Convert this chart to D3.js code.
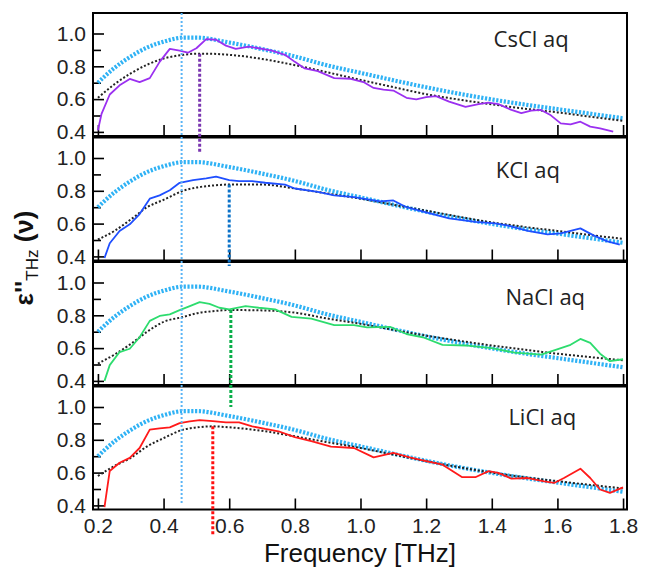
<!DOCTYPE html>
<html>
<head>
<meta charset="utf-8">
<script src="https://cdn.jsdelivr.net/npm/d3@7"></script>
<style>
  body { margin: 0; background: #fff; }
  svg { display: block; }
</style>
</head>
<body>
<div id="chart"></div>
<script>
// ---- data ----
const xTicks = [0.2, 0.4, 0.6, 0.8, 1.0, 1.2, 1.4, 1.6, 1.8]
const yTicks = [0.4, 0.5, 0.6, 0.7, 0.8, 0.9, 1.0]
const yLabelTicks = [0.4, 0.6, 0.8, 1.0]

const panelNames = ["CsCl aq", "KCl aq", "NaCl aq", "LiCl aq"]
const panelColors = ["#9b30f0", "#1f4fff", "#2ddc6e", "#ff1a1a"]
const peakColors = ["#7a35b0", "#0b72c8", "#0ab04a", "#ff1010"]
const peakFreq = [0.51, 0.60, 0.605, 0.55]
// lower end of each coloured peak marker (value in the panel below, last one in its own panel)
const peakDrop = [1.03, 1.10, 1.00, 0.22]
const waterPeak = 0.455

// pure water reference (light blue dotted), same in every panel
const waterFreq = [0.2, 0.25, 0.3, 0.35, 0.4, 0.46, 0.5, 0.6, 0.7, 0.8, 0.9, 1.0, 1.1, 1.2, 1.3, 1.4, 1.5, 1.6, 1.7, 1.8]
const waterEps = [0.70, 0.79, 0.86, 0.915, 0.95, 0.975, 0.975, 0.945, 0.905, 0.86, 0.805, 0.76, 0.715, 0.672, 0.633, 0.598, 0.567, 0.539, 0.511, 0.483]

// fits (black dotted)
const fitFreq = [0.2, 0.25, 0.3, 0.35, 0.4, 0.46, 0.5, 0.55, 0.6, 0.7, 0.8, 0.9, 1.0, 1.1, 1.2, 1.3, 1.4, 1.5, 1.6, 1.7, 1.8]
const csclFit = [0.608, 0.69, 0.757, 0.81, 0.847, 0.87, 0.877, 0.876, 0.87, 0.845, 0.807, 0.763, 0.717, 0.673, 0.630, 0.597, 0.568, 0.542, 0.519, 0.493, 0.468]
const kclFit = [0.503, 0.555, 0.625, 0.70, 0.745, 0.80, 0.82, 0.832, 0.838, 0.838, 0.814, 0.783, 0.752, 0.715, 0.679, 0.642, 0.607, 0.58, 0.555, 0.53, 0.507]
const naclFit = [0.506, 0.56, 0.625, 0.70, 0.76, 0.79, 0.812, 0.825, 0.832, 0.83, 0.816, 0.78, 0.748, 0.711, 0.676, 0.645, 0.616, 0.59, 0.566, 0.545, 0.526]
const liclFit = [0.579, 0.64, 0.69, 0.76, 0.81, 0.862, 0.875, 0.882, 0.876, 0.855, 0.821, 0.785, 0.75, 0.71, 0.67, 0.633, 0.60, 0.572, 0.548, 0.525, 0.504]

// measured spectra
const csclFreq = [0.2, 0.211, 0.236, 0.266, 0.297, 0.327, 0.358, 0.388, 0.419, 0.449, 0.474, 0.5, 0.53, 0.56, 0.59, 0.62, 0.66, 0.69, 0.73, 0.77, 0.80, 0.83, 0.87, 0.92, 0.97, 1.009, 1.04, 1.07, 1.1, 1.14, 1.17, 1.2, 1.23, 1.27, 1.32, 1.36, 1.39, 1.42, 1.46, 1.49, 1.52, 1.55, 1.58, 1.61, 1.64, 1.67, 1.70, 1.73, 1.77]
const csclEps = [0.41, 0.51, 0.628, 0.684, 0.723, 0.704, 0.728, 0.827, 0.906, 0.896, 0.883, 0.91, 0.966, 0.962, 0.926, 0.906, 0.92, 0.91, 0.896, 0.87, 0.827, 0.787, 0.771, 0.728, 0.724, 0.704, 0.668, 0.658, 0.652, 0.608, 0.598, 0.612, 0.618, 0.585, 0.553, 0.569, 0.579, 0.569, 0.534, 0.514, 0.53, 0.534, 0.501, 0.452, 0.446, 0.462, 0.432, 0.422, 0.402]

const kclFreq = [0.22, 0.236, 0.266, 0.297, 0.327, 0.358, 0.388, 0.419, 0.449, 0.49, 0.53, 0.56, 0.6, 0.63, 0.67, 0.71, 0.77, 0.8, 0.87, 0.92, 0.98, 1.06, 1.1, 1.14, 1.2, 1.27, 1.35, 1.41, 1.45, 1.51, 1.57, 1.61, 1.67, 1.71, 1.75, 1.79]
const kclEps = [0.39, 0.48, 0.555, 0.596, 0.658, 0.752, 0.772, 0.803, 0.849, 0.865, 0.876, 0.886, 0.865, 0.859, 0.859, 0.849, 0.838, 0.814, 0.793, 0.772, 0.762, 0.735, 0.741, 0.70, 0.669, 0.632, 0.611, 0.601, 0.587, 0.555, 0.534, 0.54, 0.571, 0.528, 0.493, 0.472]

const naclFreq = [0.22, 0.236, 0.266, 0.297, 0.327, 0.358, 0.388, 0.419, 0.449, 0.48, 0.51, 0.54, 0.57, 0.6, 0.65, 0.69, 0.74, 0.79, 0.85, 0.92, 0.98, 1.02, 1.09, 1.14, 1.19, 1.25, 1.32, 1.4, 1.47, 1.55, 1.59, 1.64, 1.67, 1.70, 1.73, 1.76, 1.80]
const naclEps = [0.40, 0.496, 0.576, 0.596, 0.666, 0.766, 0.796, 0.806, 0.832, 0.856, 0.88, 0.87, 0.846, 0.836, 0.856, 0.846, 0.836, 0.79, 0.78, 0.74, 0.74, 0.726, 0.73, 0.686, 0.666, 0.62, 0.616, 0.60, 0.572, 0.56, 0.586, 0.62, 0.656, 0.632, 0.566, 0.52, 0.532]

const liclFreq = [0.22, 0.236, 0.266, 0.297, 0.327, 0.358, 0.388, 0.419, 0.449, 0.48, 0.51, 0.55, 0.59, 0.63, 0.67, 0.71, 0.75, 0.8, 0.85, 0.91, 0.98, 1.04, 1.1, 1.15, 1.2, 1.25, 1.31, 1.35, 1.39, 1.42, 1.46, 1.51, 1.56, 1.59, 1.62, 1.67, 1.70, 1.73, 1.76, 1.80]
const liclEps = [0.39, 0.61, 0.66, 0.69, 0.75, 0.862, 0.87, 0.876, 0.902, 0.912, 0.92, 0.914, 0.906, 0.906, 0.882, 0.866, 0.852, 0.816, 0.792, 0.758, 0.75, 0.693, 0.72, 0.693, 0.67, 0.648, 0.572, 0.572, 0.609, 0.598, 0.563, 0.567, 0.547, 0.537, 0.567, 0.624, 0.567, 0.497, 0.476, 0.51]

const dataFreq = [csclFreq, kclFreq, naclFreq, liclFreq]
const dataEps = [csclEps, kclEps, naclEps, liclEps]
const fits = [csclFit, kclFit, naclFit, liclFit]

// ---- layout ----
const width = 646, height = 574
const marginL = 93, marginR = 19, marginT = 13
const panelH = 123, panelGap = 1.5
// where the panel names sit: centre x in THz, baseline below panel top in px
const nameX = [1.52, 1.51, 1.563, 1.554]
const nameDy = [34, 40, 43, 38]

const svg = d3.select("#chart").append("svg")
    .attr("width", width)
    .attr("height", height)
    .style("font-family", "'Liberation Sans', Arial, sans-serif")

const xScale = d3.scaleLinear()
    .domain([0.185, 1.812])
    .range([marginL, width - marginR])

const panelTop = i => marginT + i * (panelH + panelGap)
const yScales = panelNames.map((d, i) => d3.scaleLinear()
    .domain([0.375, 1.125])
    .range([panelTop(i) + panelH, panelTop(i)]))

const zip = (xs, ys) => xs.map((x, i) => [x, ys[i]])

panelNames.forEach((name, i) => {
    const y = yScales[i]
    const g = svg.append("g").attr("class", "panel")
    const bottom = panelTop(i) + panelH

    // frame
    g.append("rect")
        .attr("x", marginL)
        .attr("y", panelTop(i))
        .attr("width", width - marginR - marginL)
        .attr("height", panelH)
        .attr("fill", "none")
        .attr("stroke", "#000")
        .attr("stroke-width", 2)

    // y ticks (inside)
    g.append("g")
        .attr("transform", `translate(${marginL},0)`)
        .call(d3.axisRight(y).tickValues(yTicks)
            .tickSize(0).tickFormat(""))
        .call(a => a.select(".domain").remove())
        .call(a => a.selectAll(".tick line")
            .attr("x2", d => (Math.round(d * 10) % 2 === 0) ? 11 : 8)
            .attr("stroke", "#000").attr("stroke-width", 1.6))

    // y labels
    g.append("g")
        .attr("transform", `translate(${marginL},0)`)
        .call(d3.axisLeft(y).tickValues(yLabelTicks).tickSize(0).tickPadding(7)
            .tickFormat(d3.format(".1f")))
        .call(a => a.select(".domain").remove())
        .call(a => a.selectAll("text")
            .attr("font-size", 21)
            .attr("font-family", "'Liberation Sans', Arial, sans-serif")
            .attr("fill", "#222"))

    // x ticks (inside, on each panel bottom)
    g.append("g")
        .attr("transform", `translate(0,${bottom})`)
        .call(d3.axisTop(xScale).tickValues(xTicks).tickSize(11).tickFormat(""))
        .call(a => a.select(".domain").remove())
        .call(a => a.selectAll(".tick line").attr("stroke", "#000").attr("stroke-width", 1.6))

    const clipId = "clip" + i
    svg.append("clipPath").attr("id", clipId)
        .append("rect")
        .attr("x", marginL).attr("y", panelTop(i))
        .attr("width", width - marginR - marginL).attr("height", panelH)

    const line = d3.line().x(d => xScale(d[0])).y(d => y(d[1]))
    const smooth = d3.line().x(d => xScale(d[0])).y(d => y(d[1])).curve(d3.curveMonotoneX)

    const plot = g.append("g").attr("clip-path", `url(#${clipId})`)

    // water reference
    plot.append("path")
        .datum(zip(waterFreq, waterEps))
        .attr("d", smooth)
        .attr("fill", "none")
        .attr("stroke", "#2fb2f5")
        .attr("stroke-width", 4.2)
        .attr("stroke-dasharray", "2.2 1.6")

    // fit
    plot.append("path")
        .datum(zip(fitFreq, fits[i]))
        .attr("d", smooth)
        .attr("fill", "none")
        .attr("stroke", "#222")
        .attr("stroke-width", 2)
        .attr("stroke-dasharray", "2 2")

    // measured
    plot.append("path")
        .datum(zip(dataFreq[i], dataEps[i]))
        .attr("d", line)
        .attr("fill", "none")
        .attr("stroke", panelColors[i])
        .attr("stroke-width", 1.8)
        .attr("stroke-linejoin", "round")

    // panel name
    g.append("text")
        .attr("x", xScale(nameX[i]))
        .attr("y", panelTop(i) + nameDy[i])
        .attr("text-anchor", "middle")
        .attr("font-family", "'Open Sans', sans-serif")
        .attr("font-size", 22)
        .attr("fill", "#222")
        .text(name)
})

// peak markers, each running from its fit down into the panel below
panelNames.forEach((name, i) => {
    const fitAtPeak = d3.scaleLinear().domain(fitFreq).range(fits[i])(peakFreq[i])
    const yEnd = i < panelNames.length - 1 ? yScales[i + 1](peakDrop[i]) : yScales[i](peakDrop[i])
    svg.append("line")
        .attr("x1", xScale(peakFreq[i])).attr("x2", xScale(peakFreq[i]))
        .attr("y1", yScales[i](fitAtPeak))
        .attr("y2", yEnd)
        .attr("stroke", peakColors[i])
        .attr("stroke-width", 3)
        .attr("stroke-dasharray", "3 2")
})

// water peak marker through all panels
svg.append("line")
    .attr("x1", xScale(waterPeak)).attr("x2", xScale(waterPeak))
    .attr("y1", yScales[0](1.125))
    .attr("y2", yScales[3](0.41))
    .attr("stroke", "#5ab4f5")
    .attr("stroke-width", 2)
    .attr("stroke-dasharray", "2 2")

// x tick labels on the bottom panel
const lastBottom = panelTop(3) + panelH
svg.append("g")
    .attr("transform", `translate(0,${lastBottom})`)
    .call(d3.axisBottom(xScale).tickValues(xTicks).tickSize(0).tickPadding(9)
        .tickFormat(d3.format(".1f")))
    .call(a => a.select(".domain").remove())
    .call(a => a.selectAll("text")
        .attr("font-size", 21)
        .attr("font-family", "'Liberation Sans', Arial, sans-serif")
        .attr("fill", "#222"))

svg.append("text")
    .attr("x", (marginL + width - marginR) / 2)
    .attr("y", 562)
    .attr("text-anchor", "middle")
    .attr("font-size", 26)
    .attr("fill", "#111")
    .text("Frequency [THz]")

// y axis title
const yTitle = svg.append("text")
    .attr("transform", `translate(33,258) rotate(-90)`)
    .attr("text-anchor", "middle")
    .attr("font-size", 26)
    .attr("fill", "#111")
yTitle.append("tspan").attr("font-weight", "bold").text("ε''")
yTitle.append("tspan").attr("font-size", 17).attr("dy", 5).text("THz")
yTitle.append("tspan").attr("font-weight", "bold").attr("dy", -5).text(" (ν)")
</script>
</body>
</html>
